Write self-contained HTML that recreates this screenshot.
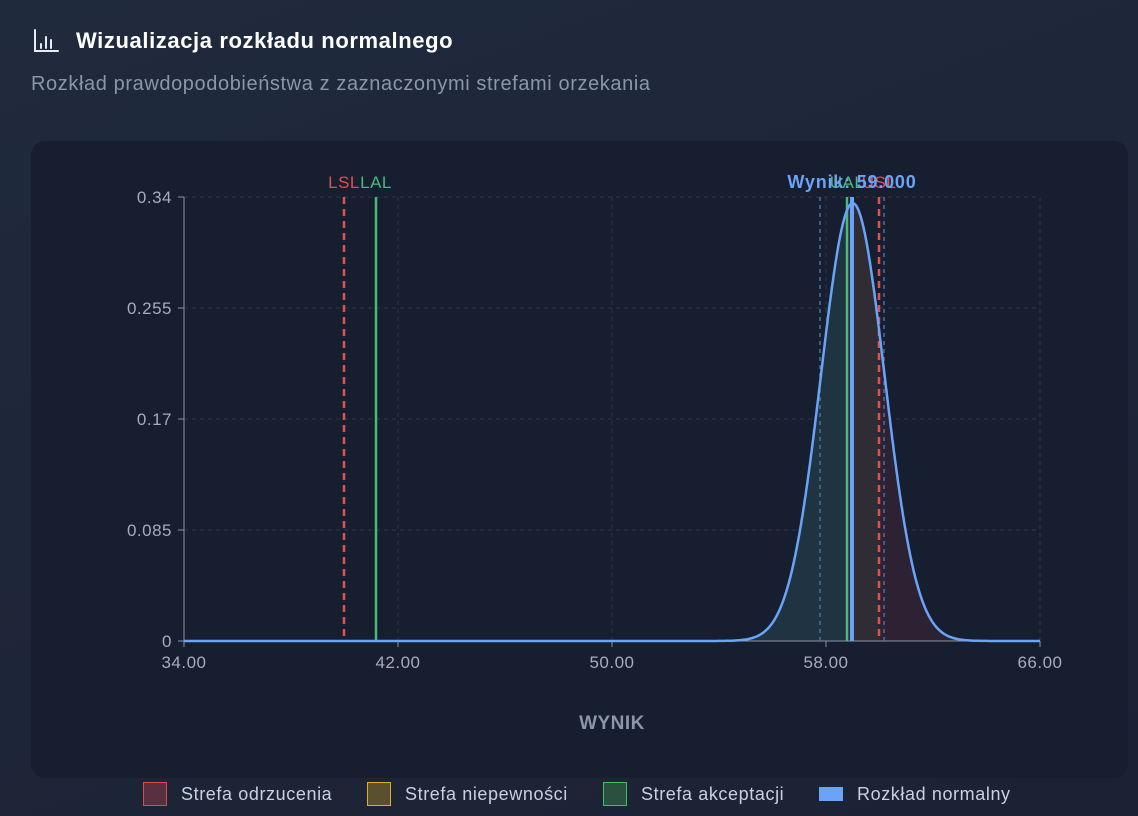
<!DOCTYPE html>
<html><head><meta charset="utf-8"><style>
html,body{margin:0;padding:0;width:1138px;height:816px;overflow:hidden;background:#1d2537;font-family:"Liberation Sans",sans-serif;}
.bg{position:absolute;inset:0;background:linear-gradient(160deg,#202a3d 0%,#1b2234 100%);}
.title{position:absolute;left:76px;top:28px;color:#fff;font-size:22px;font-weight:bold;letter-spacing:0.6px;}
.sub{position:absolute;left:31px;top:73px;color:#8a96aa;font-size:20px;letter-spacing:0.6px;}
.panel{position:absolute;left:31px;top:141px;width:1097px;height:637px;background:#171e2f;border-radius:14px;}
svg{position:absolute;left:0;top:0;}
.leg{position:absolute;top:783px;height:22px;color:#c9d1de;font-size:18px;letter-spacing:0.6px;display:flex;align-items:center;}
.sw{width:24px;height:24px;box-sizing:border-box;margin-right:14px;}
</style></head><body>
<div class="bg"></div>
<svg width="30" height="30" style="left:32px;top:27px" viewBox="0 0 30 30"><g stroke="#e8ecf2" stroke-width="2" fill="none" stroke-linecap="round"><path d="M3 3V24H26"/><path d="M9 17V21M14 10V21M19 13V21"/></g></svg>
<div class="title">Wizualizacja rozkładu normalnego</div>
<div class="sub">Rozkład prawdopodobieństwa z zaznaczonymi strefami orzekania</div>
<div class="panel"></div>
<svg id="c" width="1138" height="816"></svg>
<div class="leg" style="left:143px"><div class="sw" style="background:#5a3040;border:1.5px solid #e04848"></div>Strefa odrzucenia</div>
<div class="leg" style="left:367px"><div class="sw" style="background:#5a5030;border:1.5px solid #e0b020"></div>Strefa niepewności</div>
<div class="leg" style="left:603px"><div class="sw" style="background:#2a5040;border:1.5px solid #40c060"></div>Strefa akceptacji</div>
<div class="leg" style="left:819px"><div class="sw" style="background:#6aa4f8;width:24px;height:14px"></div>Rozkład normalny</div>
<script>
var X=v=>184+(v-34)*26.75, Y=d=>641-d*444/0.34;
var mu=59,s=1.19;
function f(x){return Math.exp(-0.5*((x-mu)/s)**2)/(s*Math.sqrt(2*Math.PI));}
var h='';
var TS='font-size="17" letter-spacing="0.5"';
[0,0.085,0.17,0.255,0.34].forEach(t=>{var y=Y(t);
 if(t>0)h+=`<line x1="184" x2="1040" y1="${y}" y2="${y}" stroke="#2c3648" stroke-dasharray="4 4"/>`;
 h+=`<line x1="178" x2="184" y1="${y}" y2="${y}" stroke="#8a94a6"/><text x="172" y="${y+6}" text-anchor="end" fill="#a3adbd" ${TS}>${t}</text>`;});
[34,42,50,58,66].forEach(t=>{var x=X(t);
 h+=`<line x1="${x}" x2="${x}" y1="197" y2="641" stroke="#2c3648" stroke-dasharray="4 4"/>`;
 h+=`<line x1="${x}" x2="${x}" y1="641" y2="647" stroke="#8a94a6"/><text x="${x}" y="668" text-anchor="middle" fill="#a3adbd" ${TS}>${t.toFixed(2)}</text>`;});
function area(a,b,col){var p=`M${X(a)},641`;for(var x=a;x<=b+1e-9;x+=0.02)p+=`L${X(x).toFixed(1)},${Y(f(x)).toFixed(1)}`;p+=`L${X(b)},641Z`;return `<path d="${p}" fill="${col}"/>`;}
h+=area(34,58.8,'#1f3340')+area(58.8,60,'#2f2d33')+area(60,66,'#2c2233');
h+=`<line x1="184" x2="184" y1="197" y2="641" stroke="#8a94a6"/><line x1="184" x2="1040" y1="641" y2="641" stroke="#8a94a6"/>`;
h+=`<line x1="820" x2="820" y1="197" y2="641" stroke="#4a70a8" stroke-width="1.5" stroke-dasharray="4 4"/>`;
h+=`<line x1="884" x2="884" y1="197" y2="641" stroke="#4a70a8" stroke-width="1.5" stroke-dasharray="4 4"/>`;
h+=`<line x1="344" x2="344" y1="197" y2="641" stroke="#e05050" stroke-width="2.5" stroke-dasharray="7 5"/>`;
h+=`<line x1="879" x2="879" y1="197" y2="641" stroke="#e05050" stroke-width="2.5" stroke-dasharray="7 5"/>`;
h+=`<line x1="376" x2="376" y1="197" y2="641" stroke="#4cb87a" stroke-width="2.5"/>`;
h+=`<line x1="847" x2="847" y1="197" y2="641" stroke="#4cb87a" stroke-width="2.5"/>`;
var p='';for(var x=34;x<=66.001;x+=0.02)p+=(p?'L':'M')+X(x).toFixed(1)+','+Y(f(x)).toFixed(1);
h+=`<path d="${p}" fill="none" stroke="#6aa4f8" stroke-width="2.5"/>`;
h+=`<line x1="852" x2="852" y1="197" y2="641" stroke="#6aa4f8" stroke-width="4"/>`;
h+=`<text x="344" y="188" text-anchor="middle" fill="#e05050" ${TS}>LSL</text><text x="376" y="188" text-anchor="middle" fill="#4cb87a" ${TS}>LAL</text>`;
h+=`<text x="847" y="188" text-anchor="middle" fill="#4cb87a" ${TS}>UAL</text><text x="879" y="188" text-anchor="middle" fill="#e05050" ${TS}>USL</text>`;
h+=`<text x="852" y="188" text-anchor="middle" fill="#6aa4f8" font-size="18" letter-spacing="0.8" font-weight="bold">Wynik: 59.000</text>`;
h+=`<text x="612" y="729" text-anchor="middle" fill="#8a96aa" font-size="19" letter-spacing="0.5" font-weight="bold">WYNIK</text>`;
document.getElementById('c').innerHTML=h;
</script>
</body></html>
